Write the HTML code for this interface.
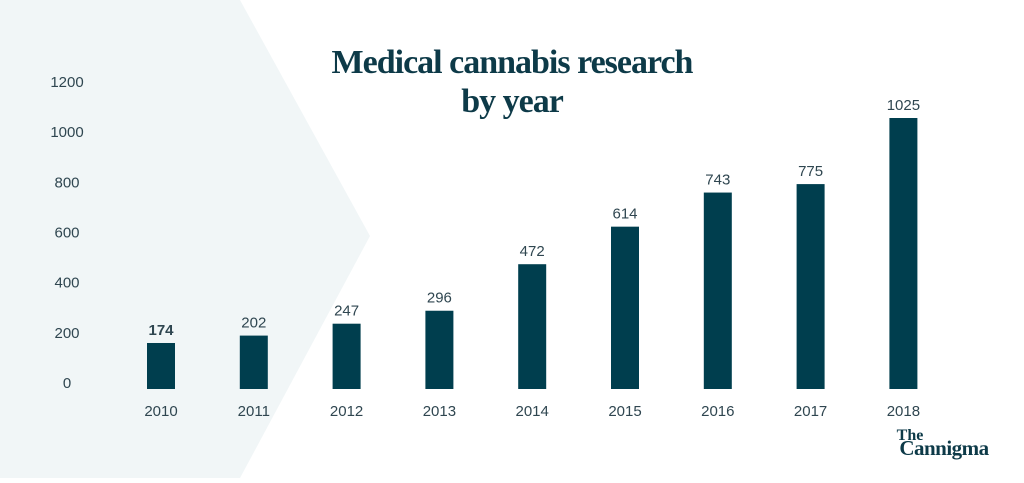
<!DOCTYPE html>
<html><head><meta charset="utf-8"><style>
body{margin:0;width:1024px;height:478px;overflow:hidden;background:#fff;font-family:"Liberation Sans",sans-serif}
</style></head><body>
<svg width="1024" height="478">
<polygon points="0,0 240,0 370,236 240,478 0,478" fill="#f1f6f7"/>
<text x="512" y="73" text-anchor="middle" font-family="Liberation Serif,serif" font-weight="bold" font-size="34" fill="#0d3a48" letter-spacing="-1">Medical cannabis research</text>
<text x="512" y="112" text-anchor="middle" font-family="Liberation Serif,serif" font-weight="bold" font-size="34" fill="#0d3a48" letter-spacing="-1">by year</text>
<g id="yaxis"></g><g id="bars"></g>
<text x="910" y="440" text-anchor="middle" font-family="Liberation Serif,serif" font-weight="bold" font-size="16" fill="#0d3a48">The</text>
<text x="944" y="455" text-anchor="middle" font-family="Liberation Serif,serif" font-weight="bold" font-size="21" fill="#0d3a48" letter-spacing="-0.5">Cannigma</text>
</svg>
<script>
const categories=["2010","2011","2012","2013","2014","2015","2016","2017","2018"];
const values=[174,202,247,296,472,614,743,775,1025];
const yTicks=[0,200,400,600,800,1000,1200];
const NS="http://www.w3.org/2000/svg";
const base=389, yk=271/1025;
function y(v){return base-v*yk;}
function x(i){return 161+i*92.8;}
function tickY(v){return 388-v*0.2508;}
const ya=document.getElementById('yaxis'), bg=document.getElementById('bars');
yTicks.forEach(t=>{
 const e=document.createElementNS(NS,'text');
 
 
 e.setAttribute('x',67);e.setAttribute('y',tickY(t));e.setAttribute('font-size','15');e.setAttribute('fill','#2f4650');
 e.setAttribute('text-anchor','middle');
 e.textContent=t;ya.appendChild(e);
});
values.forEach((v,i)=>{
 const r=document.createElementNS(NS,'rect');
 
 
 r.setAttribute('x',x(i)-14);r.setAttribute('y',y(v));r.setAttribute('width',28);r.setAttribute('height',base-y(v));r.setAttribute('fill','#003e4e');
 bg.appendChild(r);
 const l=document.createElementNS(NS,'text');
 
 
 l.setAttribute('x',x(i));l.setAttribute('y',y(v)-8);l.setAttribute('text-anchor','middle');l.setAttribute('font-size','15');l.setAttribute('fill','#2f4650');
 if(i===0)l.setAttribute('font-weight','bold');
 l.textContent=v;bg.appendChild(l);
 const c=document.createElementNS(NS,'text');
 
 
 c.setAttribute('x',x(i));c.setAttribute('y',416);c.setAttribute('text-anchor','middle');c.setAttribute('font-size','15');c.setAttribute('fill','#2f4650');
 c.textContent=categories[i];bg.appendChild(c);
});
</script>
</body></html>
